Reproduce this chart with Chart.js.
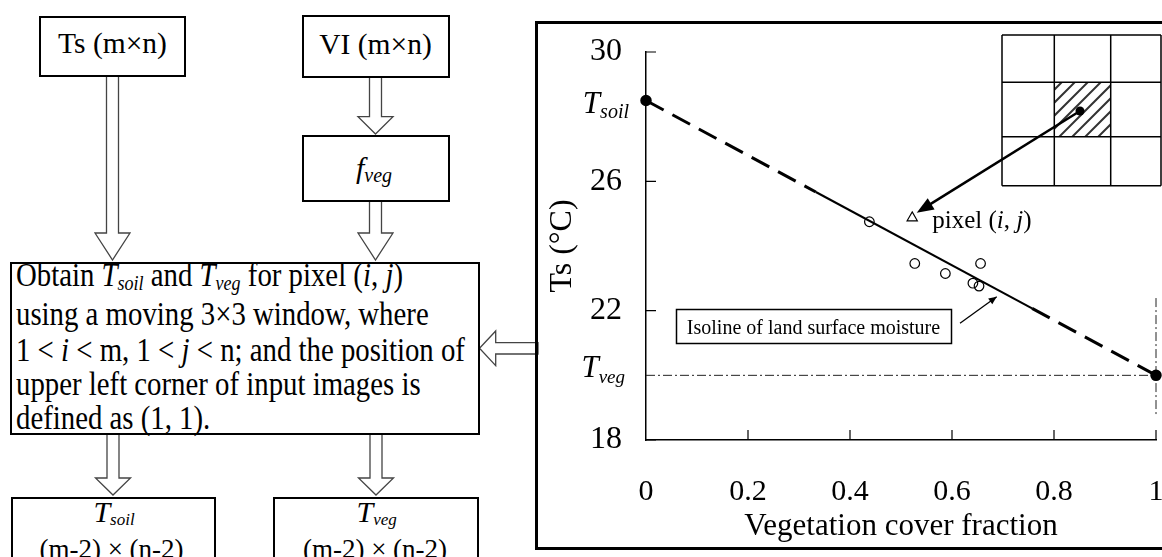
<!DOCTYPE html>
<html>
<head>
<meta charset="utf-8">
<script src="https://cdn.jsdelivr.net/npm/chart.js@4.4.1/dist/chart.umd.min.js"></script>
<style>
  html, body { margin: 0; padding: 0; background: #fff; overflow: hidden; }
  #wrap { position: relative; width: 1162px; height: 557px; overflow: hidden;
          font-family: "Liberation Serif", "Times New Roman", serif; color: #000; }
  #arrows { position: absolute; left: 0; top: 0; z-index: 1; }
  .box { position: absolute; border: 2px solid #000; box-sizing: border-box; background: #fff; z-index: 2; }
  .t { position: absolute; white-space: nowrap; line-height: 1; transform: translateX(-50%); z-index: 3; }
  .t i, .big i { font-style: italic; }
  .s { font-style: italic; position: relative; }
  .big { position: absolute; left: 16px; top: 257.9px; white-space: nowrap; font-size: 28.8px;
         line-height: 29.3px; transform: scaleY(1.18); transform-origin: 0 0; z-index: 3; }
  .big .s { font-size: 18px; top: 3px; }
  #chart { position: absolute; left: 0; top: 0; z-index: 4; }
</style>
</head>
<body>
<div id="wrap">
  <svg id="arrows" width="1162" height="557">
    <g fill="#fff" stroke="#444" stroke-width="1.3">
      <polygon points="106.5,74 106.5,233 95,233 112.5,260 130,233 118.5,233 118.5,74"/>
      <polygon points="369.5,75 369.5,116.7 358,116.7 375.5,134 393,116.7 381.5,116.7 381.5,75"/>
      <polygon points="369.5,200 369.5,233 358,233 375.5,260 393,233 381.5,233 381.5,200"/>
      <polygon points="107,432 107,478 95.5,478 113,495 130.5,478 119,478 119,432"/>
      <polygon points="370,432 370,478 358.5,478 376,495 393.5,478 382,478 382,432"/>
      <polygon points="538,342.6 495.7,342.6 495.7,331 479.5,348.3 495.7,365.6 495.7,354 538,354"/>
    </g>
  </svg>

  <div class="box" style="left:39px; top:15.5px; width:147px; height:61px;"></div>
  <div class="box" style="left:301.5px; top:15px; width:148px; height:62.5px;"></div>
  <div class="box" style="left:301.5px; top:135px; width:148px; height:67px;"></div>
  <div class="box" style="left:10px; top:261.7px; width:469.5px; height:173px;"></div>
  <div class="box" style="left:10.7px; top:496.7px; width:205.3px; height:120px;"></div>
  <div class="box" style="left:273.3px; top:496.7px; width:206px; height:120px;"></div>

  <div class="t" style="left:112.5px; top:29.3px; font-size:29.5px;">Ts (m×n)</div>
  <div class="t" style="left:375.5px; top:30.3px; font-size:29.5px;">VI (m×n)</div>
  <div class="t" style="left:374px; top:152.9px; font-size:30px;"><i>f</i><span class="s" style="font-size:20px; top:4px;">veg</span></div>

  <div class="big">Obtain <i>T</i><span class="s">soil</span> and <i>T</i><span class="s">veg</span> for pixel (<i>i</i>, <i>j</i>)<br>using a moving 3×3 window, where<br>1 &lt; <i>i</i> &lt; m, 1 &lt; <i>j</i> &lt; n; and the position of<br>upper left corner of input images is<br>defined as (1, 1).</div>

  <div class="t" style="left:114px; top:496.6px; font-size:30px;"><i>T</i><span class="s" style="font-size:17px; top:3.5px;">soil</span></div>
  <div class="t" style="left:111.5px; top:536px; font-size:27px;">(m-2) × (n-2)</div>
  <div class="t" style="left:376.7px; top:496.6px; font-size:30px;"><i>T</i><span class="s" style="font-size:17px; top:3.5px;">veg</span></div>
  <div class="t" style="left:375px; top:536px; font-size:27px;">(m-2) × (n-2)</div>

  <canvas id="chart" width="1200" height="557" style="width:1200px; height:557px;"></canvas>
</div>

<script>
// axis ticks
var xTickValues = [0, 0.2, 0.4, 0.6, 0.8, 1];
var yTickValues = [18, 22, 26, 30];

// observed pixels in the 3x3 window (circles)
var sampleX = [0.438, 0.527, 0.587, 0.656, 0.641, 0.653];
var sampleY = [24.75, 23.46, 23.15, 23.46, 22.85, 22.76];

// the target pixel (i, j) (triangle)
var pixelX = [0.522];
var pixelY = [24.87];

// isoline of land surface moisture: Tsoil end, solid part, Tveg end
var isoX = [0, 0.333, 0.757, 1];
var isoY = [28.5, 25.67, 22.07, 20.0];

// Tveg reference line and the fveg = 1 marker line
var vegLineX = [0, 1];
var vegLineY = [20.0, 20.0];
var edgeLineX = [1, 1];
var edgeLineY = [22.39, 18.72];

function pts(xs, ys) {
  return xs.map(function(x, i) { return { x: x, y: ys[i] }; });
}

var serif = '"Liberation Serif", "Times New Roman", serif';
Chart.defaults.font.family = serif;
Chart.defaults.color = '#000';

function subLabel(ctx, main, sub, xRight, base, mainSize, subSize, drop) {
  ctx.font = 'italic ' + subSize + 'px ' + serif;
  var ws = ctx.measureText(sub).width;
  ctx.font = 'italic ' + mainSize + 'px ' + serif;
  var wm = ctx.measureText(main).width;
  ctx.textAlign = 'left';
  ctx.textBaseline = 'alphabetic';
  ctx.fillText(main, xRight - ws - wm, base);
  ctx.font = 'italic ' + subSize + 'px ' + serif;
  ctx.fillText(sub, xRight - ws, base + drop);
}

function arrowHead(ctx, x0, y0, x1, y1, len, half) {
  var a = Math.atan2(y1 - y0, x1 - x0);
  ctx.beginPath();
  ctx.moveTo(x1, y1);
  ctx.lineTo(x1 - len * Math.cos(a) + half * Math.sin(a), y1 - len * Math.sin(a) - half * Math.cos(a));
  ctx.lineTo(x1 - len * Math.cos(a) - half * Math.sin(a), y1 - len * Math.sin(a) + half * Math.cos(a));
  ctx.closePath();
  ctx.fill();
}

var decor = {
  id: 'decor',
  afterDraw: function(chart) {
    var ctx = chart.ctx, xs = chart.scales.x, ys = chart.scales.y;
    ctx.save();
    ctx.fillStyle = '#000';
    ctx.strokeStyle = '#000';

    // frame around the panel
    ctx.lineWidth = 3;
    ctx.strokeRect(536.5, 22.5, 700, 526);

    // inward tick marks
    ctx.lineWidth = 1.2;
    ctx.beginPath();
    xTickValues.forEach(function(v) {
      if (v === 0) return;
      var px = xs.getPixelForValue(v);
      ctx.moveTo(px, xs.top); ctx.lineTo(px, xs.top - 10);
    });
    yTickValues.forEach(function(v) {
      var py = ys.getPixelForValue(v);
      ctx.moveTo(ys.right, py); ctx.lineTo(ys.right + 10, py);
    });
    ctx.stroke();

    // Tsoil / Tveg labels on the y axis
    var pySoil = ys.getPixelForValue(isoY[0]);
    var pyVeg = ys.getPixelForValue(isoY[3]);
    subLabel(ctx, 'T', 'soil', 629, pySoil + 12.3, 31, 20, 4.7);
    subLabel(ctx, 'T', 'veg', 625, pyVeg + 1.7, 31, 19, 6.3);

    // pixel (i, j) label
    var tx = xs.getPixelForValue(pixelX[0]), ty = ys.getPixelForValue(pixelY[0]);
    var lx = tx + 20, ly = ty + 10;
    var parts = [['pixel (', ''], ['i', 'italic '], [', ', ''], ['j', 'italic '], [')', '']];
    ctx.textAlign = 'left';
    ctx.textBaseline = 'alphabetic';
    parts.forEach(function(p) {
      ctx.font = p[1] + '25px ' + serif;
      ctx.fillText(p[0], lx, ly);
      lx += ctx.measureText(p[0]).width;
    });

    // isoline note
    ctx.lineWidth = 1.5;
    ctx.strokeRect(676.5, 309.5, 275, 34);
    ctx.font = '20px ' + serif;
    ctx.textAlign = 'center';
    ctx.fillText('Isoline of land surface moisture', 813.5, 334.3);
    ctx.lineWidth = 1.3;
    ctx.beginPath();
    ctx.moveTo(960, 323.3); ctx.lineTo(996.7, 296.7);
    ctx.stroke();
    arrowHead(ctx, 960, 323.3, 996.7, 296.7, 8, 3.5);

    // 3x3 moving window
    var gx = [1002, 1054.3, 1110.7, 1161], gy = [35, 82.3, 136.7, 185.7];
    ctx.save();
    ctx.beginPath();
    ctx.rect(gx[1], gy[1], gx[2] - gx[1], gy[2] - gy[1]);
    ctx.clip();
    ctx.strokeStyle = '#333';
    ctx.lineWidth = 2;
    ctx.beginPath();
    for (var k = -60; k < 70; k += 13) {
      ctx.moveTo(gx[1] + k, gy[2]);
      ctx.lineTo(gx[1] + k + 60, gy[2] - 60);
    }
    ctx.stroke();
    ctx.restore();
    ctx.lineWidth = 1.5;
    ctx.beginPath();
    gx.forEach(function(x) { ctx.moveTo(x, gy[0]); ctx.lineTo(x, gy[3]); });
    gy.forEach(function(y) { ctx.moveTo(gx[0], y); ctx.lineTo(gx[3], y); });
    ctx.stroke();

    // centre pixel -> pixel (i, j)
    var cx = 1080, cy = 111;
    ctx.beginPath();
    ctx.arc(cx, cy, 4.5, 0, Math.PI * 2);
    ctx.fill();
    var ax = tx + 4.5, ay = ty - 5;
    ctx.lineWidth = 2.5;
    ctx.beginPath();
    ctx.moveTo(cx, cy); ctx.lineTo(ax + 10, ay - 6.5);
    ctx.stroke();
    arrowHead(ctx, cx, cy, ax, ay, 17, 6.5);

    ctx.restore();
  }
};

var ctxEl = document.getElementById('chart');
var chart = new Chart(ctxEl, {
  type: 'scatter',
  data: {
    datasets: [
      {
        data: pts(sampleX, sampleY),
        pointStyle: 'circle',
        pointRadius: 4.8,
        pointBorderWidth: 1.2,
        pointBorderColor: '#000',
        pointBackgroundColor: 'rgba(0,0,0,0)',
        clip: false
      },
      {
        data: pts(pixelX, pixelY),
        pointStyle: 'triangle',
        pointRadius: 6,
        pointBorderWidth: 1.1,
        pointBorderColor: '#000',
        pointBackgroundColor: 'rgba(0,0,0,0)',
        clip: false
      },
      {
        data: pts(isoX, isoY),
        showLine: true,
        borderColor: '#000',
        borderWidth: 2.5,
        pointRadius: [4.5, 0, 0, 4.5],
        pointBackgroundColor: '#000',
        pointBorderColor: '#000',
        segment: {
          borderDash: function(c) { return c.p0DataIndex === 1 ? [] : [20, 10]; },
          borderWidth: function(c) { return c.p0DataIndex === 1 ? 2 : 3; }
        },
        clip: false
      },
      {
        data: pts(vegLineX, vegLineY),
        showLine: true,
        borderColor: '#222',
        borderWidth: 1,
        borderDash: [9, 3, 2, 3],
        pointRadius: 0,
        clip: false
      },
      {
        data: pts(edgeLineX, edgeLineY),
        showLine: true,
        borderColor: '#222',
        borderWidth: 1,
        borderDash: [9, 3, 2, 3],
        pointRadius: 0,
        clip: false
      }
    ]
  },
  options: {
    responsive: false,
    animation: false,
    events: [],
    layout: { padding: { left: 536, top: 52, right: 44, bottom: 0 } },
    plugins: { legend: { display: false }, tooltip: { enabled: false } },
    scales: {
      x: {
        type: 'linear',
        min: 0,
        max: 1,
        afterBuildTicks: function(s) { s.ticks = xTickValues.map(function(v) { return { value: v }; }); },
        afterFit: function(s) { s.height = 117; s.paddingLeft = 0; s.paddingRight = 0; },
        grid: { display: false, drawTicks: false },
        border: { display: true, color: '#000', width: 1.5 },
        ticks: { color: '#000', padding: 34, maxRotation: 0, autoSkip: false,
                 font: { family: serif, size: 30 },
                 callback: function(v) { return String(v); } },
        title: { display: true, text: 'Vegetation cover fraction', color: '#000',
                 font: { family: serif, size: 31 }, padding: { top: 0, bottom: 12 } }
      },
      y: {
        type: 'linear',
        min: 18,
        max: 30,
        afterBuildTicks: function(s) { s.ticks = yTickValues.map(function(v) { return { value: v }; }); },
        afterFit: function(s) { s.width = 110; s.paddingTop = 0; s.paddingBottom = 0; },
        grid: { display: false, drawTicks: false },
        border: { display: true, color: '#000', width: 1.5 },
        ticks: { color: '#000', padding: 24, autoSkip: false,
                 font: { family: serif, size: 32 },
                 callback: function(v) { return String(v); } },
        title: { display: true, text: 'Ts (°C)', color: '#000',
                 font: { family: serif, size: 32 }, padding: { top: 7, bottom: 0 } }
      }
    }
  },
  plugins: [decor]
});
</script>
</body>
</html>
